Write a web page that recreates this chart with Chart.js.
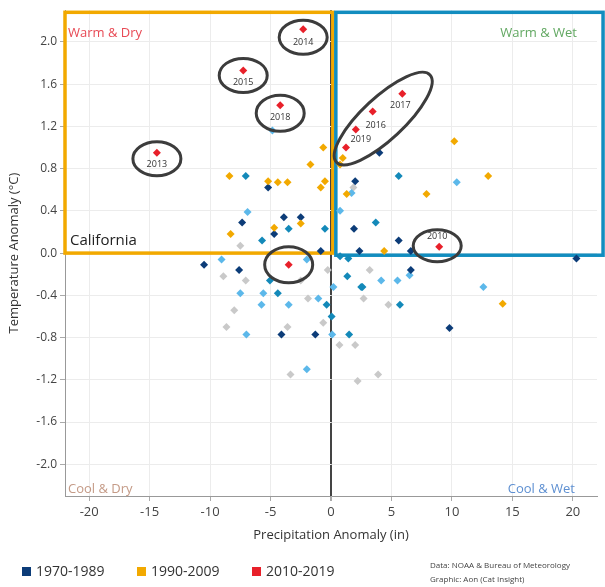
<!DOCTYPE html>
<html>
<head>
<meta charset="utf-8">
<script src="https://cdn.jsdelivr.net/npm/chart.js@4/dist/chart.umd.min.js"></script>
<style>
  html, body { margin: 0; padding: 0; background: #fff; }
  #wrap { width: 605px; height: 587px; position: relative; }
</style>
</head>
<body>
<div id="wrap"><canvas id="chart" width="605" height="587"></canvas></div>
<script>
// ejes
const xTicks = [-20, -15, -10, -5, 0, 5, 10, 15, 20];
const yTicks = [-2.0, -1.6, -1.2, -0.8, -0.4, 0.0, 0.4, 0.8, 1.2, 1.6, 2.0];

// 2010-2019 (rojo)
const precip2010 = [-2.3, -7.26, -4.2, -14.4, 5.9, 3.45, 2.05, 1.24, 8.95, -3.5];
const temp2010   = [2.12, 1.73, 1.40, 0.95, 1.51, 1.34, 1.17, 1.00, 0.06, -0.11];
const years2010  = ['2014', '2015', '2018', '2013', '2017', '2016', '2019', '', '2010', ''];

// 1990-2009 (amarillo)
const precip1990 = [-8.4, -5.2, -4.4, -3.6, -0.5, -0.85, -0.64, -1.7, -2.5, -4.7, -8.3, 0.97, 0.75, 1.3, 7.9, 10.2, 13.0, 4.4, 14.2];
const temp1990   = [0.73, 0.68, 0.67, 0.67, 0.68, 0.62, 1.00, 0.84, 0.28, 0.24, 0.18, 0.90, 0.84, 0.56, 0.56, 1.06, 0.73, 0.02, -0.48];

// 1970-1989 (azul oscuro)
const precip1970 = [2.0, -5.2, -3.9, -2.5, -7.35, -4.7, 1.9, 5.6, -0.85, 2.35, 6.6, -10.5, -7.6, 6.6, -4.1, -1.3, 9.8, 20.3, 4.0];
const temp1970   = [0.68, 0.62, 0.34, 0.34, 0.29, 0.18, 0.23, 0.12, 0.02, 0.02, 0.02, -0.11, -0.16, -0.16, -0.77, -0.77, -0.71, -0.05, 0.95];

// otros periodos (sin leyenda)
const precipTeal = [-7.05, 5.6, -3.5, -0.5, -5.7, 3.7, 0.75, 1.43, -5.05, -4.4, 1.35, 2.5, 2.6, -0.36, 0.05, 5.7, 1.5];
const tempTeal   = [0.73, 0.73, 0.23, 0.23, 0.12, 0.29, -0.03, -0.05, -0.26, -0.38, -0.22, -0.32, -0.32, -0.49, -0.60, -0.49, -0.77];

const precipLight = [-6.9, -9.05, 0.75, 1.7, -7.5, -5.6, -5.75, -3.5, -1.05, 0.2, 4.15, 5.5, 6.5, -7.0, 0.1, -2.0, -2.0, 12.6, 10.4, -4.85];
const tempLight   = [0.39, -0.06, 0.40, 0.57, -0.38, -0.38, -0.49, -0.49, -0.43, -0.32, -0.26, -0.26, -0.21, -0.77, -0.77, -1.10, -0.06, -0.32, 0.67, 1.16];

const precipGray = [1.85, -7.5, -8.9, -7.05, -0.27, -2.5, 3.2, 2.7, 4.75, -1.9, -8.0, -8.65, -3.6, -0.64, 0.7, 2.0, -3.35, 2.2, 3.9];
const tempGray   = [0.62, 0.07, -0.22, -0.26, -0.16, -0.26, -0.16, -0.43, -0.49, -0.43, -0.54, -0.70, -0.70, -0.66, -0.87, -0.87, -1.15, -1.21, -1.15];

const COL_NAVY = '#0c3c78';
const COL_YELLOW = '#f2a900';
const COL_RED = '#e8202a';
const COL_TEAL = '#1389b9';
const COL_LIGHT = '#5cb8ea';
const COL_GRAY = '#c9c9c9';
const FONT = '"Open Sans", "Noto Sans", sans-serif';

function puntos(xs, ys) {
    return xs.map((x, i) => ({ x: x, y: ys[i] }));
}

function serie(label, xs, ys, color) {
    return {
        label: label,
        data: puntos(xs, ys),
        pointStyle: 'rectRot',
        pointRadius: 4,
        pointHoverRadius: 4,
        backgroundColor: color,
        borderWidth: 0
    };
}

// marcos de cuadrantes (California)
const cajas = [
    { x0: -22, x1: 0.15, y0: 0, y1: 2.28, color: COL_YELLOW },
    { x0: 0.4, x1: 22.5, y0: -0.02, y1: 2.28, color: '#128dbf' }
];

// elipses alrededor de años destacados: indices de puntos rojos, desplazamiento en px
const elipses = [
    { idx: [0], dx: 0, dy: 8, rx: 24, ry: 17, rot: 0 },
    { idx: [1], dx: 0, dy: 5, rx: 24, ry: 17, rot: 0 },
    { idx: [2], dx: 0, dy: 8, rx: 24, ry: 18, rot: 0 },
    { idx: [3], dx: 0, dy: 6, rx: 24, ry: 17, rot: 0 },
    { idx: [4, 5, 6, 7], dx: 14, dy: -2, rx: 64, ry: 21, rot: -43 },
    { idx: [8], dx: -2, dy: -1, rx: 24, ry: 16, rot: 0 },
    { idx: [9], dx: 0, dy: 0, rx: 24, ry: 18, rot: 0 }
];
const etiquetaOffset = [[0, 13], [0, 12], [0, 12], [0, 12], [-2, 12], [3, 14], [5, 10], [0, 0], [-2, -10], [0, 0]];

const plugins = [{
    id: 'decoracion',
    beforeDatasetsDraw(chart) {
        const { ctx, scales: { x, y } } = chart;
        ctx.save();
        ctx.lineWidth = 3.5;
        cajas.forEach(c => {
            ctx.strokeStyle = c.color;
            const l = x.getPixelForValue(c.x0), r = x.getPixelForValue(c.x1);
            const t = y.getPixelForValue(c.y1), b = y.getPixelForValue(c.y0);
            ctx.strokeRect(l, t, r - l, b - t);
        });
        ctx.restore();
    },
    afterDatasetsDraw(chart) {
        const { ctx, chartArea: a } = chart;
        const meta = chart.getDatasetMeta(0);
        ctx.save();
        ctx.strokeStyle = '#3c3c3c';
        ctx.lineWidth = 3;
        elipses.forEach(e => {
            let cx = 0, cy = 0;
            e.idx.forEach(i => { cx += meta.data[i].x; cy += meta.data[i].y; });
            cx = cx / e.idx.length + e.dx;
            cy = cy / e.idx.length + e.dy;
            ctx.beginPath();
            ctx.ellipse(cx, cy, e.rx, e.ry, e.rot * Math.PI / 180, 0, Math.PI * 2);
            ctx.stroke();
        });

        ctx.fillStyle = '#333';
        ctx.font = '9px ' + FONT;
        ctx.textAlign = 'center';
        ctx.textBaseline = 'middle';
        years2010.forEach((yr, i) => {
            if (!yr) return;
            const p = meta.data[i];
            ctx.fillText(yr, p.x + etiquetaOffset[i][0], p.y + etiquetaOffset[i][1]);
        });

        // rótulos de cuadrantes
        ctx.font = '13px ' + FONT;
        ctx.textAlign = 'left';
        ctx.fillStyle = '#e84a55';
        ctx.fillText('Warm & Dry', a.left + 3, a.top + 23);
        ctx.fillStyle = '#c49a86';
        ctx.fillText('Cool & Dry', a.left + 3, a.bottom - 7);
        ctx.textAlign = 'right';
        ctx.fillStyle = '#62a862';
        ctx.fillText('Warm & Wet', a.right - 20, a.top + 23);
        ctx.fillStyle = '#5d8fd1';
        ctx.fillText('Cool & Wet', a.right - 22, a.bottom - 7);

        ctx.textAlign = 'left';
        ctx.fillStyle = '#222';
        ctx.font = '15px ' + FONT;
        ctx.fillText('California', a.left + 5, 241);

        // leyenda
        const leyenda = [['1970-1989', COL_NAVY, 22], ['1990-2009', COL_YELLOW, 137], ['2010-2019', COL_RED, 252]];
        ctx.font = '14px ' + FONT;
        leyenda.forEach(l => {
            ctx.fillStyle = l[1];
            ctx.fillRect(l[2], 567, 9, 9);
            ctx.fillStyle = '#333';
            ctx.fillText(l[0], l[2] + 14, 572);
        });

        ctx.font = '8px ' + FONT;
        ctx.fillStyle = '#444';
        ctx.fillText('Data: NOAA & Bureau of Meteorology', 430, 566);
        ctx.fillText('Graphic: Aon (Cat Insight)', 430, 580);
        ctx.restore();
    }
}];

new Chart(document.getElementById('chart'), {
    type: 'scatter',
    data: {
        datasets: [
            serie('2010-2019', precip2010, temp2010, COL_RED),
            serie('1990-2009', precip1990, temp1990, COL_YELLOW),
            serie('1970-1989', precip1970, temp1970, COL_NAVY),
            serie('otros', precipTeal, tempTeal, COL_TEAL),
            serie('otros', precipLight, tempLight, COL_LIGHT),
            serie('otros', precipGray, tempGray, COL_GRAY)
        ]
    },
    options: {
        responsive: false,
        animation: false,
        layout: { padding: { top: 8, right: 8, left: 0, bottom: 0 } },
        plugins: { legend: { display: false }, tooltip: { enabled: false } },
        scales: {
            x: {
                type: 'linear', min: -22, max: 22,
                afterBuildTicks: s => { s.ticks = xTicks.map(v => ({ value: v })); },
                afterFit: s => { s.height = 91; },
                grid: {
                    color: c => c.tick && c.tick.value === 0 ? '#444' : '#ececec',
                    lineWidth: c => c.tick && c.tick.value === 0 ? 2 : 1,
                    tickLength: 5, tickColor: '#aaa'
                },
                border: { color: '#999', width: 1 },
                ticks: { color: '#444', font: { family: FONT, size: 13 }, padding: 3, callback: v => v },
                title: { display: true, text: 'Precipitation Anomaly (in)', color: '#333', font: { family: FONT, size: 13 }, padding: { top: 0, bottom: 44 } }
            },
            y: {
                type: 'linear', min: -2.3, max: 2.3,
                afterBuildTicks: s => { s.ticks = yTicks.map(v => ({ value: v })); },
                afterFit: s => { s.width = 65; },
                grid: { color: '#ececec', tickLength: 5, tickColor: '#aaa' },
                border: { color: '#999', width: 1 },
                ticks: { color: '#444', font: { family: FONT, size: 12 }, padding: 3, callback: v => v.toFixed(1) },
                title: { display: true, text: 'Temperature Anomaly (°C)', color: '#333', font: { family: FONT, size: 13 }, padding: { top: 6, bottom: 0 } }
            }
        }
    },
    plugins: plugins
});
</script>
</body>
</html>
